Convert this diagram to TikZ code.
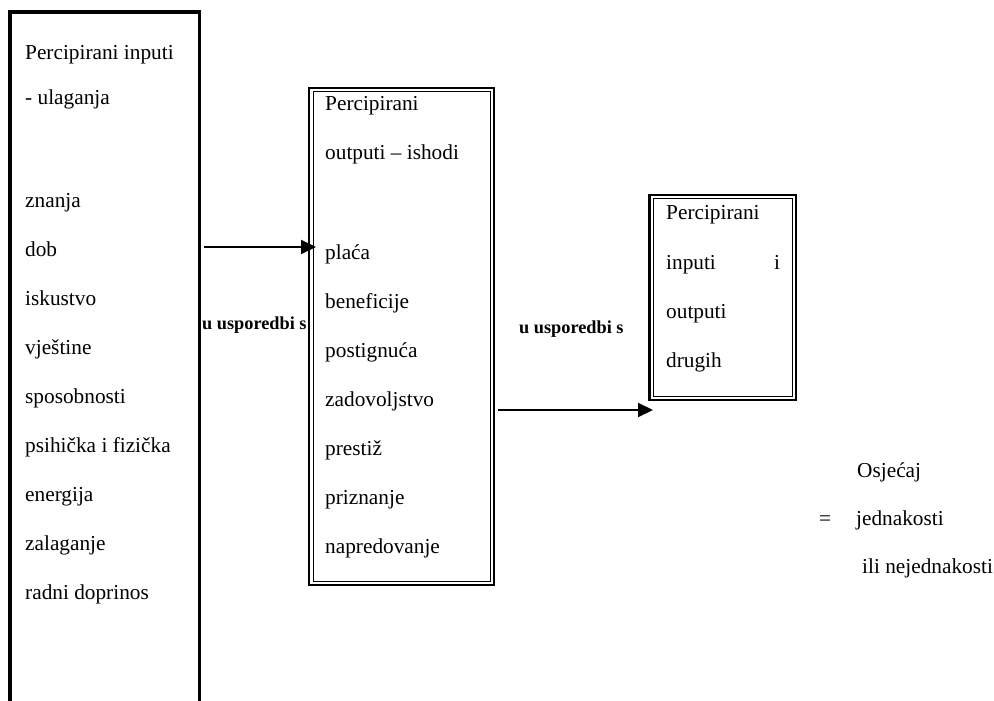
\documentclass[tikz,border=0pt]{standalone}
\usepackage{fontspec}
\setmainfont{Liberation Serif}
\usetikzlibrary{arrows.meta}
\tikzset{
  txt/.style={anchor=base west, inner sep=0pt, font=\fontsize{21.3}{25}\selectfont},
  lbl/.style={anchor=base west, inner sep=0pt, font=\fontsize{18.3}{22}\selectfont\bfseries},
  thickframe/.style={line width=3.5pt, miter limit=10},
  outerframe/.style={line width=2.3pt},
  innerframe/.style={line width=1pt},
  arr/.style={line width=2pt, -{Triangle[length=15pt,width=14pt]}},
}
\begin{document}
\begin{tikzpicture}[x=1pt,y=-1pt]
\useasboundingbox (0,0) rectangle (994,701);
\fill[white] (0,0) rectangle (994,701);

% left box (open at bottom)
\draw[thickframe] (10,701) -- (10,12) -- (199.5,12) -- (199.5,701);

% middle box (double frame)
\draw[outerframe] (309,88) rectangle (494,585);
\draw[innerframe] (313,91.5) rectangle (490.5,581.5);

% right box (double frame)
\draw[outerframe] (649.5,195) rectangle (796,400);
\draw[innerframe] (653,198.5) rectangle (792.5,396.5);

% left box texts
\node[txt] (l1) at (25,60) {Percipirani inputi};
\node[txt] (l2) at (25,105) {- ulaganja};
\node[txt] (l3) at (25,207) {znanja};
\node[txt] (l4) at (25,256) {dob};
\node[txt] (l5) at (25,305) {iskustvo};
\node[txt] (l6) at (25,354) {vještine};
\node[txt] (l7) at (25,403) {sposobnosti};
\node[txt] (l8) at (25,452) {psihička i fizička};
\node[txt] (l9) at (25,501) {energija};
\node[txt] (l10) at (25,550) {zalaganje};
\node[txt] (l11) at (25,599) {radni doprinos};

% middle box texts
\node[txt] (m1) at (325,110.5) {Percipirani};
\node[txt] (m2) at (325,159) {outputi – ishodi};
\node[txt] (m3) at (325,259) {plaća};
\node[txt] (m4) at (325,308) {beneficije};
\node[txt] (m5) at (325,357) {postignuća};
\node[txt] (m6) at (325,406) {zadovoljstvo};
\node[txt] (m7) at (325,455) {prestiž};
\node[txt] (m8) at (325,504) {priznanje};
\node[txt] (m9) at (325,553) {napredovanje};

% right box texts
\node[txt] (r1) at (666,219) {Percipirani};
\node[txt] (r2) at (666,269) {inputi};
\node[txt] (r2b) at (774,269) {i};
\node[txt] (r3) at (666,318) {outputi};
\node[txt] (r4) at (666,367) {drugih};

% comparison labels
\node[lbl] (c1) at (202,329) {u usporedbi s};
\node[lbl] (c2) at (519,333) {u usporedbi s};

% result texts
\node[txt] (f1) at (857,477) {Osjećaj};
\node[txt] (feq) at (819,525) {=};
\node[txt] (f2) at (856,525) {jednakosti};
\node[txt] (f3) at (862,573) {ili nejednakosti};

% arrows
\coordinate (a1s) at (204,247);
\coordinate (a1e) at (316,247);
\coordinate (a2s) at (498,410);
\coordinate (a2e) at (653,410);
\draw[arr] (a1s) -- (a1e);
\draw[arr] (a2s) -- (a2e);
\end{tikzpicture}
\end{document}
